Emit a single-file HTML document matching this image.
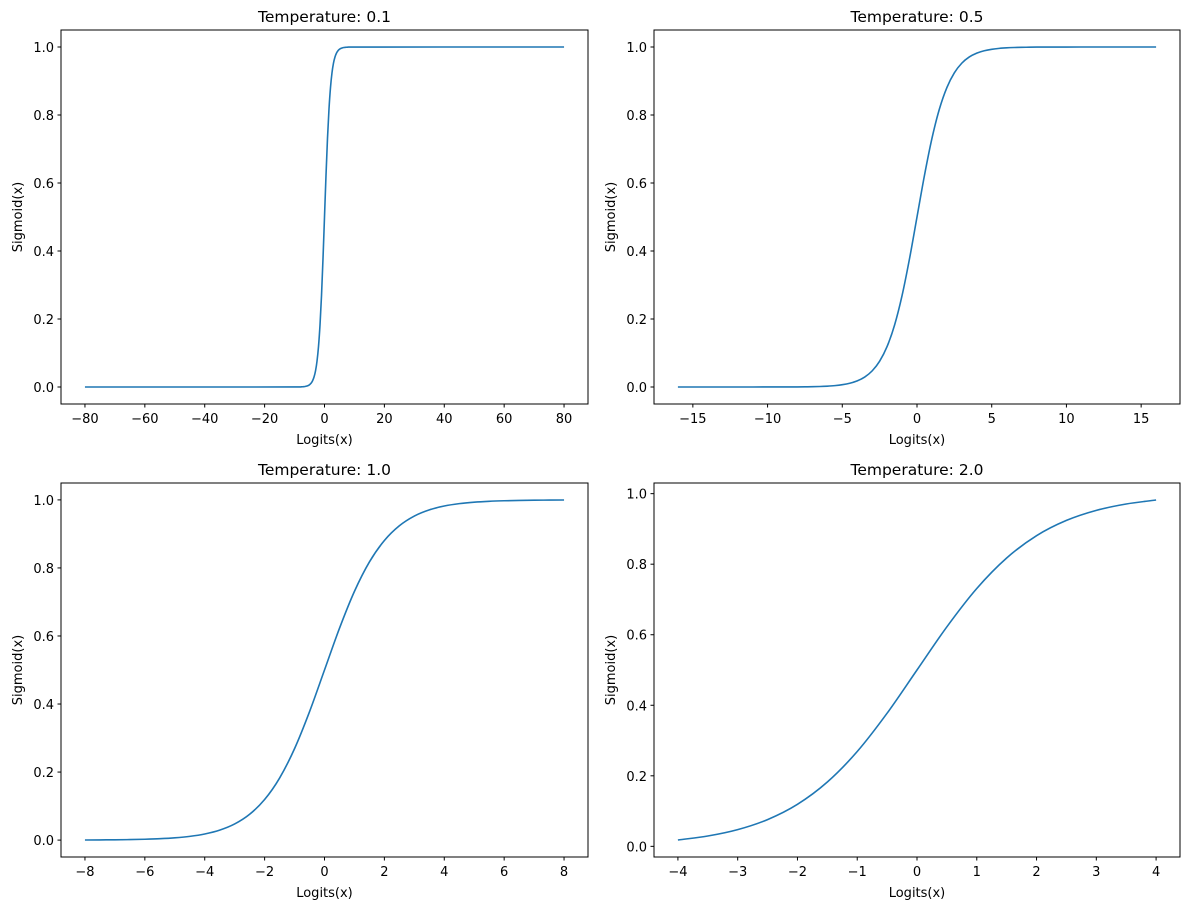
<!DOCTYPE html>
<html><head><meta charset="utf-8"><style>
body{margin:0;background:#fff}
svg{display:block;font-family:"DejaVu Sans","Liberation Sans",sans-serif}
</style></head><body>
<svg id="fig" width="1189" height="910"></svg>
<script>
// sigmoid values, x = -8..8 step 0.5
const gridX = [-8,-7.5,-7,-6.5,-6,-5.5,-5,-4.5,-4,-3.5,-3,-2.5,-2,-1.5,-1,-0.5,0,0.5,1,1.5,2,2.5,3,3.5,4,4.5,5,5.5,6,6.5,7,7.5,8];
const gridY = [0.0003,0.0006,0.0009,0.0015,0.0025,0.0041,0.0067,0.0110,0.0180,0.0293,0.0474,0.0759,0.1192,0.1824,0.2689,0.3775,0.5,0.6225,0.7311,0.8176,0.8808,0.9241,0.9526,0.9707,0.9820,0.9890,0.9933,0.9959,0.9975,0.9985,0.9991,0.9994,0.9997];
const p1X = [-80,-40,-10].concat(gridX,[10,40,80]);
const p1Y = [0,0,0.00005].concat(gridY,[0.99995,1,1]);
const p2X = [-16,-12,-10].concat(gridX,[10,12,16]);
const p2Y = [0,0.00001,0.00005].concat(gridY,[0.99995,0.99999,1]);
const p3X = gridX;
const p3Y = gridY;
const p4X = gridX.slice(8,25);
const p4Y = gridY.slice(8,25);
const titles = ["Temperature: 0.1","Temperature: 0.5","Temperature: 1.0","Temperature: 2.0"];
const xTicks1 = [-80,-60,-40,-20,0,20,40,60,80];
const xTicks2 = [-15,-10,-5,0,5,10,15];
const xTicks3 = [-8,-6,-4,-2,0,2,4,6,8];
const xTicks4 = [-4,-3,-2,-1,0,1,2,3,4];
const yTicks = [0,0.2,0.4,0.6,0.8,1.0];

const NS="http://www.w3.org/2000/svg";
const svg=document.getElementById('fig');
function mk(tag,attrs,parent){const e=document.createElementNS(NS,tag);for(const k in attrs)e.setAttribute(k,attrs[k]);(parent||svg).appendChild(e);return e;}
function fmt(v){const s=Number.isInteger(v)?String(Math.abs(v)):Math.abs(v).toFixed(1);return (v<0?"\u2212":"")+s;}
// monotone cubic path through screen points
function monoPath(P){
  const n=P.length,d=[],m=[];
  for(let i=0;i<n-1;i++)d.push((P[i+1][1]-P[i][1])/(P[i+1][0]-P[i][0]));
  m[0]=d[0];m[n-1]=d[n-2];
  for(let i=1;i<n-1;i++){m[i]=(d[i-1]*d[i]<=0)?0:(d[i-1]+d[i])/2;}
  for(let i=0;i<n-1;i++){if(d[i]===0){m[i]=0;m[i+1]=0;continue;}const a=m[i]/d[i],b=m[i+1]/d[i],s=a*a+b*b;if(s>9){const t=3/Math.sqrt(s);m[i]=t*a*d[i];m[i+1]=t*b*d[i];}}
  let s='M'+P[0][0].toFixed(2)+','+P[0][1].toFixed(2);
  for(let i=0;i<n-1;i++){const h=(P[i+1][0]-P[i][0])/3;
    s+=' C'+(P[i][0]+h).toFixed(2)+','+(P[i][1]+m[i]*h).toFixed(2)+' '+(P[i+1][0]-h).toFixed(2)+','+(P[i+1][1]-m[i+1]*h).toFixed(2)+' '+P[i+1][0].toFixed(2)+','+P[i+1][1].toFixed(2);}
  return s;
}
const boxes=[[61,30,588,404],[654,30,1180,404],[61,483,588,857],[654,483,1180,857]];
const data=[[p1X,p1Y,xTicks1],[p2X,p2Y,xTicks2],[p3X,p3Y,xTicks3],[p4X,p4Y,xTicks4]];
data.forEach((d,i)=>{
  const [xs,ys,xt]=d;const [L,T,R,B]=boxes[i];
  const g=mk('g',{});
  
  
  const xmin=Math.min(...xs),xmax=Math.max(...xs),ymin=Math.min(...ys),ymax=Math.max(...ys);
  const xm=(xmax-xmin)*0.05,ym=(ymax-ymin)*0.05;
  const sx=v=>L+(v-(xmin-xm))/((xmax+xm)-(xmin-xm))*(R-L);
  const sy=v=>B-(v-(ymin-ym))/((ymax+ym)-(ymin-ym))*(B-T);
  const P=xs.map((x,j)=>[sx(x),sy(ys[j])]);
  const line=mk('path',{d:monoPath(P),fill:'none',stroke:'#1f77b4','stroke-width':1.6,'stroke-linejoin':'round'},g);
  
  
  const frame=mk('rect',{x:L,y:T,width:R-L,height:B-T,fill:'none',stroke:'#000','stroke-width':1},g);
  
  
  xt.forEach(v=>{const x=sx(v);mk('line',{x1:x,x2:x,y1:B,y2:B+3.5,stroke:'#000'},g);
    const t=mk('text',{x:x,y:B+19,'font-size':13,'text-anchor':'middle'},g);t.textContent=fmt(v);
    
    });
  yTicks.forEach(v=>{const y=sy(v);mk('line',{x1:L-3.5,x2:L,y1:y,y2:y,stroke:'#000'},g);
    const t=mk('text',{x:L-7,y:y+5,'font-size':13,'text-anchor':'end'},g);t.textContent=v.toFixed(1);
    
    });
  const ti=mk('text',{x:(L+R)/2,y:T-8,'font-size':15.5,'text-anchor':'middle'},g);ti.textContent=titles[i];
  
  
  const xl=mk('text',{x:(L+R)/2,y:B+40,'font-size':13,'text-anchor':'middle'},g);xl.textContent='Logits(x)';
  
  
  const yc=(T+B)/2,yx=L-39;
  const yl=mk('text',{x:yx,y:yc,'font-size':13,'text-anchor':'middle',transform:`rotate(-90 ${yx} ${yc})`},g);yl.textContent='Sigmoid(x)';
  
  
});
</script>
</body></html>
